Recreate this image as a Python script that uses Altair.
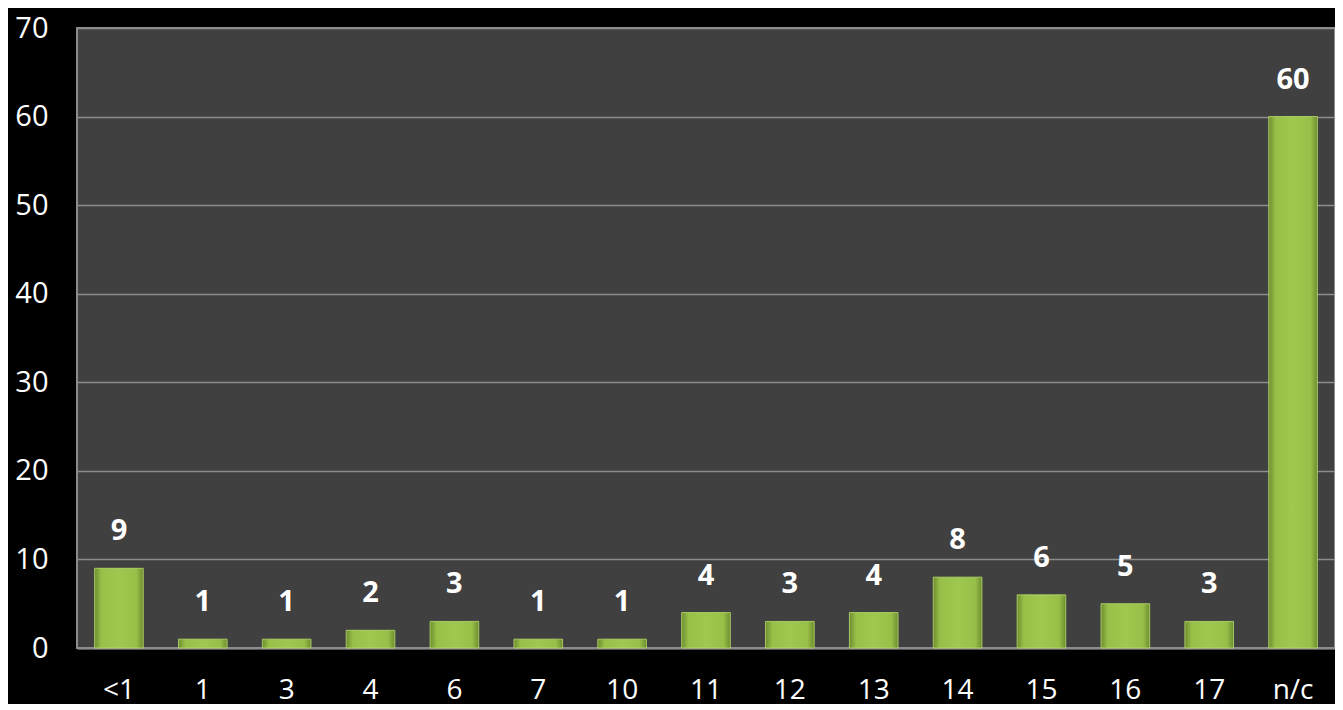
import altair as alt
import pandas as pd

categories = ["<1", "1", "3", "4", "6", "7", "10", "11", "12", "13", "14", "15", "16", "17", "n/c"]
values = [9, 1, 1, 2, 3, 1, 1, 4, 3, 4, 8, 6, 5, 3, 60]

df = pd.DataFrame({"cat": categories, "val": values})

FONT = "Open Sans"

x_enc = alt.X(
    "cat:N",
    sort=categories,
    scale=alt.Scale(paddingInner=0.42, paddingOuter=0.21),
    axis=alt.Axis(
        title=None,
        labelAngle=0,
        labelColor="white",
        labelFont=FONT,
        labelFontSize=28,
        labelPadding=28,
        ticks=False,
        domain=True,
        domainColor="#8c8c8c",
        domainWidth=2,
        grid=False,
    ),
)
y_enc = alt.Y(
    "val:Q",
    scale=alt.Scale(domain=[0, 70], nice=False),
    axis=alt.Axis(
        title=None,
        values=[0, 10, 20, 30, 40, 50, 60, 70],
        labelColor="white",
        labelFont=FONT,
        labelFontSize=29,
        labelPadding=29,
        ticks=False,
        domain=False,
        grid=True,
        gridColor="#8c8c8c",
        gridWidth=1.5,
        minExtent=69,
        maxExtent=69,
    ),
)

bar_fill = alt.Gradient(
    gradient="linear",
    stops=[
        alt.GradientStop(color="#6f8c30", offset=0),
        alt.GradientStop(color="#98c048", offset=0.14),
        alt.GradientStop(color="#a0c850", offset=0.5),
        alt.GradientStop(color="#98c048", offset=0.86),
        alt.GradientStop(color="#6f8c30", offset=1),
    ],
    x1=0, x2=1, y1=0, y2=0,
)

bars = alt.Chart(df).mark_bar(color=bar_fill, stroke="#b8df6c", strokeWidth=0.8).encode(
    x=x_enc, y=y_enc
)

labels = alt.Chart(df).mark_text(
    color="white",
    font=FONT,
    fontWeight="bold",
    fontSize=29,
    baseline="middle",
    dy=-37,
).encode(x=alt.X("cat:N", sort=categories), y="val:Q", text="val:Q")

chart = (
    alt.layer(bars, labels)
    .properties(
        width=1258,
        height=620,
        padding={"left": 0, "top": 6, "right": 0, "bottom": 0},
        background="black",
    )
    .configure_view(fill="#404040", stroke="#8c8c8c", strokeWidth=2)
)

chart.save("out.html", embed_options={"renderer": "svg", "actions": False})
